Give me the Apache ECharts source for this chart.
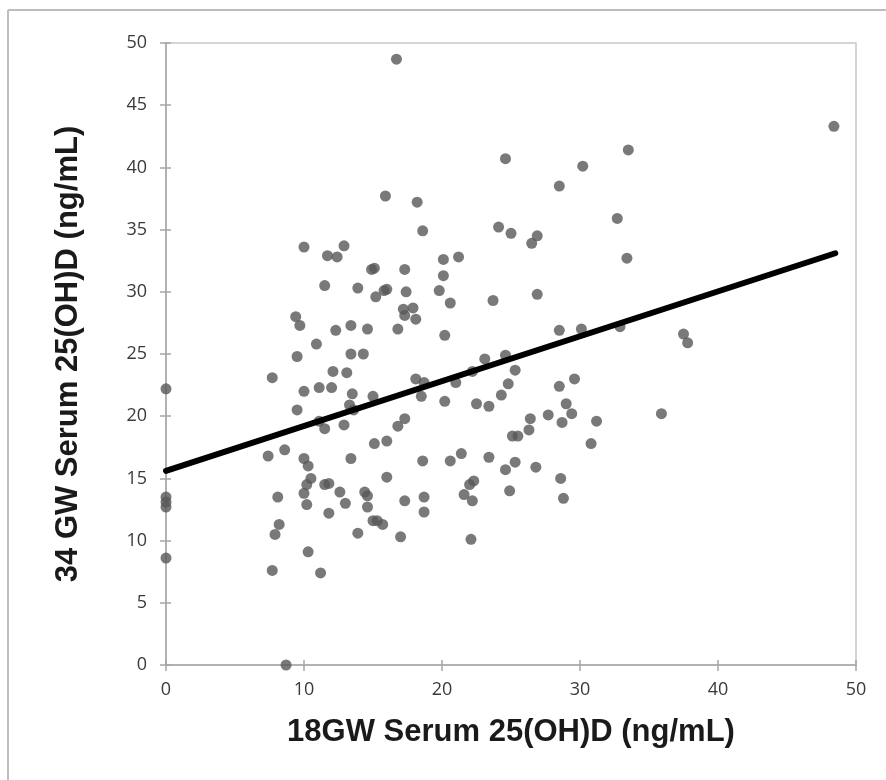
<!DOCTYPE html>
<html>
<head>
<meta charset="utf-8">
<script src="https://cdn.jsdelivr.net/npm/echarts@6/dist/echarts.min.js"></script>
<style>
html,body{margin:0;padding:0;background:#fff;}
#c{width:886px;height:780px;}
</style>
</head>
<body>
<div id="c"></div>
<script>
// 18GW serum 25(OH)D (x) and 34GW serum 25(OH)D (y), ng/mL
const xVals = [16.7,48.4,33.5,24.6,30.2,28.5,15.9,18.2,32.7,24.1,25.0,26.9,26.5,18.6,10.0,12.9,11.7,12.4,20.1,21.2,33.4,14.9,15.1,17.3,11.5,20.1,13.9,15.2,15.8,16.0,17.4,19.8,20.6,23.7,26.9,17.2,17.3,17.9,18.1,9.4,9.7,13.4,12.3,14.6,16.8,28.5,30.1,32.9,37.5,37.8,20.2,10.9,9.5,13.4,14.3,23.1,24.6,24.8,25.3,12.1,13.1,22.2,7.7,18.1,18.7,21.0,29.6,28.5,11.1,12.0,0,10.0,13.5,18.5,15.0,24.3,20.2,22.5,29.0,23.4,13.3,13.6,9.5,29.4,27.7,35.9,17.3,26.4,28.7,31.2,11.1,12.9,16.8,11.5,26.3,25.1,25.5,16.0,15.1,30.8,7.4,8.6,10.0,13.4,18.6,21.4,20.6,23.4,25.3,26.8,24.6,10.3,16.0,10.5,28.6,11.5,11.8,10.2,22.3,22.0,14.4,14.6,12.6,10.0,8.1,0,0,0,18.7,24.9,28.8,21.6,17.3,22.2,10.2,13.0,14.6,11.8,18.7,15.0,15.3,15.7,8.2,7.9,13.9,17.0,22.1,10.3,0,7.7,11.2,8.7];
const yVals = [48.7,43.3,41.4,40.7,40.1,38.5,37.7,37.2,35.9,35.2,34.7,34.5,33.9,34.9,33.6,33.7,32.9,32.8,32.6,32.8,32.7,31.8,31.9,31.8,30.5,31.3,30.3,29.6,30.1,30.2,30.0,30.1,29.1,29.3,29.8,28.6,28.1,28.7,27.8,28.0,27.3,27.3,26.9,27.0,27.0,26.9,27.0,27.2,26.6,25.9,26.5,25.8,24.8,25.0,25.0,24.6,24.9,22.6,23.7,23.6,23.5,23.6,23.1,23.0,22.7,22.7,23.0,22.4,22.3,22.3,22.2,22.0,21.8,21.6,21.6,21.7,21.2,21.0,21.0,20.8,20.9,20.5,20.5,20.2,20.1,20.2,19.8,19.8,19.5,19.6,19.6,19.3,19.2,19.0,18.9,18.4,18.4,18.0,17.8,17.8,16.8,17.3,16.6,16.6,16.4,17.0,16.4,16.7,16.3,15.9,15.7,16.0,15.1,15.0,15.0,14.5,14.6,14.5,14.8,14.5,13.9,13.6,13.9,13.8,13.5,13.5,13.1,12.7,13.5,14.0,13.4,13.7,13.2,13.2,12.9,13.0,12.7,12.2,12.3,11.6,11.6,11.3,11.3,10.5,10.6,10.3,10.1,9.1,8.6,7.6,7.4,0];
// linear trend line endpoints
const trendX = [0, 48.5];
const trendY = [15.6, 33.1];
const xTicks = [0, 10, 20, 30, 40, 50];
const yTicks = [0, 5, 10, 15, 20, 25, 30, 35, 40, 45, 50];
const xTitle = '18GW Serum 25(OH)D (ng/mL)';
const yTitle = '34 GW Serum 25(OH)D (ng/mL)';

const points = xVals.map((x, i) => [x, yVals[i]]);
const trend = trendX.map((x, i) => [x, trendY[i]]);

const axisGray = '#a6a6a6';
const labelStyle = {color: '#3a3a3a', fontSize: 18, fontFamily: 'Open Sans'};

const chart = echarts.init(document.getElementById('c'), null, {renderer: 'canvas'});
chart.setOption({
  backgroundColor: '#fff',
  animation: false,
  grid: {left: 166, top: 43, right: 30, bottom: 115, show: true, borderColor: '#c8c8c8', borderWidth: 1.5, containLabel: false},
  xAxis: [{
    type: 'value', min: xTicks[0], max: xTicks[xTicks.length - 1], interval: xTicks[1] - xTicks[0],
    position: 'bottom',
    name: xTitle, nameLocation: 'middle', nameGap: 52,
    nameTextStyle: {fontFamily: 'Liberation Sans', fontWeight: 'bold', fontSize: 31, color: '#1a1a1a'},
    axisLine: {show: true, onZero: false, lineStyle: {color: axisGray, width: 1.5}},
    axisTick: {show: true, inside: false, length: 6, lineStyle: {color: axisGray, width: 1.5}},
    axisLabel: Object.assign({margin: 16}, labelStyle),
    splitLine: {show: false}
  }, {
    type: 'value', min: xTicks[0], max: xTicks[xTicks.length - 1], interval: xTicks[1] - xTicks[0],
    position: 'bottom',
    axisLine: {show: false, onZero: false},
    axisTick: {show: true, inside: true, length: 5, lineStyle: {color: axisGray, width: 1.5}},
    axisLabel: {show: false}, splitLine: {show: false}
  }],
  yAxis: [{
    type: 'value', min: yTicks[0], max: yTicks[yTicks.length - 1], interval: yTicks[1] - yTicks[0],
    position: 'left',
    name: yTitle, nameLocation: 'middle', nameGap: 82, nameRotate: 90,
    nameTextStyle: {fontFamily: 'Liberation Sans', fontWeight: 'bold', fontSize: 31, color: '#1a1a1a'},
    axisLine: {show: true, onZero: false, lineStyle: {color: axisGray, width: 1.5}},
    axisTick: {show: true, inside: false, length: 6, lineStyle: {color: axisGray, width: 1.5}},
    axisLabel: Object.assign({margin: 19}, labelStyle),
    splitLine: {show: false}
  }, {
    type: 'value', min: yTicks[0], max: yTicks[yTicks.length - 1], interval: yTicks[1] - yTicks[0],
    position: 'left',
    axisLine: {show: false, onZero: false},
    axisTick: {show: true, inside: true, length: 5, lineStyle: {color: axisGray, width: 1.5}},
    axisLabel: {show: false}, splitLine: {show: false}
  }],
  graphic: [
    {type: 'line', shape: {x1: 8, y1: 10, x2: 8, y2: 780}, style: {stroke: '#bdbdbd', lineWidth: 2}, silent: true},
    {type: 'line', shape: {x1: 8, y1: 10, x2: 886, y2: 10}, style: {stroke: '#bdbdbd', lineWidth: 2}, silent: true}
  ],
  series: [{
    type: 'scatter', xAxisIndex: 0, yAxisIndex: 0,
    data: points, symbol: 'circle', symbolSize: 11,
    itemStyle: {color: '#575757'}, z: 2
  }, {
    type: 'line', xAxisIndex: 0, yAxisIndex: 0,
    data: trend, showSymbol: false, symbol: 'none',
    lineStyle: {color: '#000', width: 6, cap: 'round'}, z: 3
  }]
});
</script>
</body>
</html>
